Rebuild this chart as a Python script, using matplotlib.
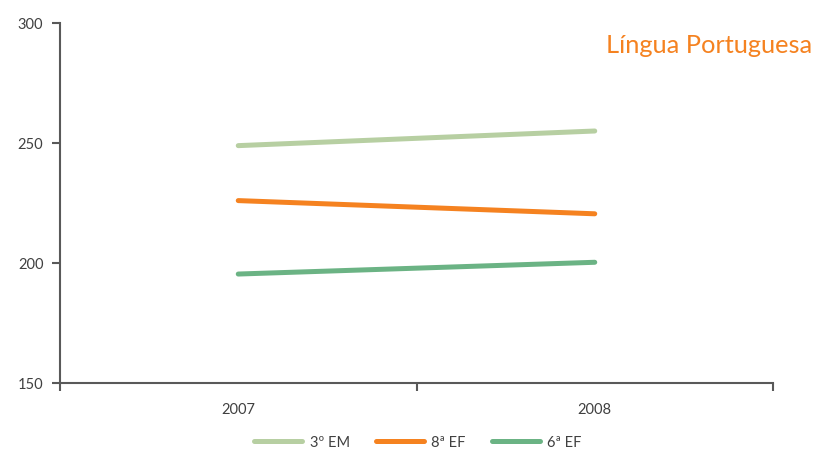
import numpy as np
import matplotlib
matplotlib.use('Agg')
import matplotlib.pyplot as plt

plt.rcParams['font.family'] = ['Lato', 'DejaVu Sans']

anos = ['2007', '2008']
series = ['3º EM', '8ª EF', '6ª EF']
em3 = [248.9, 255.0]
ef8 = [226.0, 220.5]
ef6 = [195.4, 200.3]
cores = ['#B7CFA2', '#F58220', '#6BB384']

fig = plt.figure(figsize=(8.15, 4.52), dpi=100)
ax = fig.add_axes([60/815, 1-384/452, 713/815, 360/452])

x = np.arange(len(anos)) + 0.5
for vals, nome, cor in zip([em3, ef8, ef6], series, cores):
    ax.plot(x, vals, color=cor, lw=3.6, solid_capstyle='round', label=nome)

ax.set_xlim(0, 2)
ax.set_ylim(150, 300)
ax.set_yticks([150, 200, 250, 300])
ax.set_xticks([0, 1, 2])
ax.set_xticklabels([])
ax.set_xticks(x, minor=True)
ax.set_xticklabels(anos, minor=True)
ax.tick_params(axis='x', which='minor', length=0, pad=14)
ax.tick_params(axis='x', which='major', length=6, width=1.5, color='#595959')
ax.tick_params(axis='y', length=6, width=1.5, color='#595959', pad=6)
ax.tick_params(labelsize=10.5, labelcolor='#404040')
for lbl in ax.get_xticklabels(minor=True):
    lbl.set_fontsize(10.5)
    lbl.set_color('#404040')

for s in ['top', 'right']:
    ax.spines[s].set_visible(False)
for s in ['left', 'bottom']:
    ax.spines[s].set_color('#595959')
    ax.spines[s].set_linewidth(1.5)

fig.text(812/815, 1-53/452, 'Língua Portuguesa', color='#F58220', fontsize=18.3,
         ha='right', va='baseline')

fig.legend(loc='center', bbox_to_anchor=(418/815, 1-443/452), ncol=3, frameon=False,
           fontsize=10.5, handlelength=3.3, columnspacing=1.8, handletextpad=0.5,
           labelcolor='#404040')

fig.savefig('out.png', dpi=100)
